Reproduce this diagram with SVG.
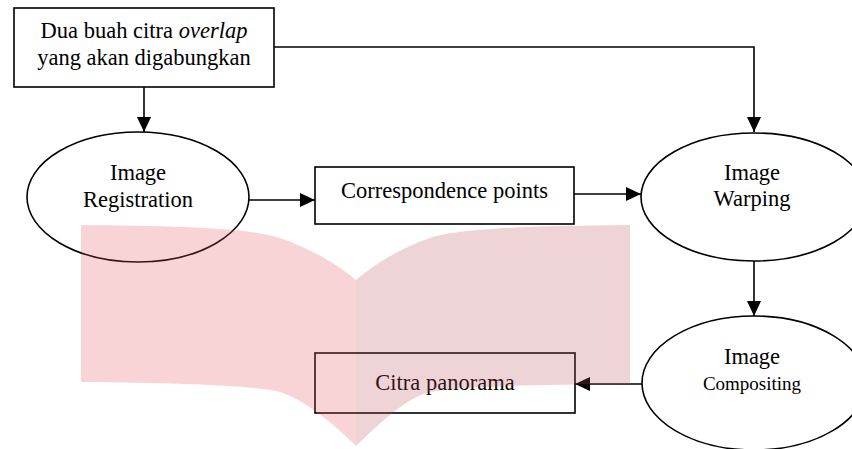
<svg xmlns="http://www.w3.org/2000/svg" width="852" height="449" viewBox="0 0 852 449">
<style>
.box{fill:#fff;stroke:#000;stroke-width:1.6}
.el{fill:#fff;stroke:#000;stroke-width:1.6}
.t{font-family:"Liberation Serif","Times New Roman",serif;font-size:22.5px;fill:#000;text-anchor:middle}
.s{font-size:19px}
.c{fill:none;stroke:#000;stroke-width:1.6}
</style>
<defs>
<marker id="ah" markerUnits="userSpaceOnUse" markerWidth="16" markerHeight="15" refX="15" refY="7" orient="auto">
<path d="M0,0 L15,7 L0,14 Z" fill="#000"/>
</marker>
</defs>
<rect width="852" height="449" fill="#fff"/>
<g id="connectors">
<path class="c" d="M144,87 L144,132" marker-end="url(#ah)"/>
<path class="c" d="M274,47 L754,47 L754,132" marker-end="url(#ah)"/>
<path class="c" d="M249,200 L315,200" marker-end="url(#ah)"/>
<path class="c" d="M574,194 L641,194" marker-end="url(#ah)"/>
<path class="c" d="M754,261 L754,316" marker-end="url(#ah)"/>
<path class="c" d="M642,384 L575,384" marker-end="url(#ah)"/>
</g>
<g id="input">
<rect class="box" x="14" y="8" width="260" height="79"/>
<text class="t" x="144" y="38">Dua buah citra <tspan font-style="italic">overlap</tspan></text>
<text class="t" x="144" y="65">yang akan digabungkan</text>
</g>
<g id="registration">
<ellipse class="el" cx="138" cy="197" rx="111" ry="65"/>
<text class="t" x="138" y="180">Image</text>
<text class="t" x="138" y="207">Registration</text>
</g>
<g id="correspondence">
<rect class="box" x="315" y="167" width="259" height="57"/>
<text class="t" x="444.5" y="198">Correspondence points</text>
</g>
<g id="warping">
<ellipse class="el" cx="754" cy="197" rx="113" ry="64"/>
<text class="t" x="752" y="180">Image</text>
<text class="t" x="752" y="206">Warping</text>
</g>
<g id="compositing">
<ellipse class="el" cx="754" cy="383" rx="112" ry="67"/>
<text class="t" x="752" y="364">Image</text>
<text class="t s" x="752" y="390">Compositing</text>
</g>
<g id="panorama">
<rect class="box" x="315" y="353" width="260" height="60"/>
<text class="t" x="445" y="390">Citra panorama</text>
</g>
<g id="watermark">
<path d="M81,225 C180,226 250,228 280,238 C310,248 340,266 356,280 L356,446 C335,425 305,400 280,392 C250,385 180,383 81,382 Z" fill="#e8555d" fill-opacity="0.25"/>
<path d="M356,280 C372,266 400,248 430,238 C460,228 530,226 630,225 L630,384 C530,385 460,386 430,392 C405,398 378,425 356,446 Z" fill="#c0555f" fill-opacity="0.25"/>
</g>
</svg>
